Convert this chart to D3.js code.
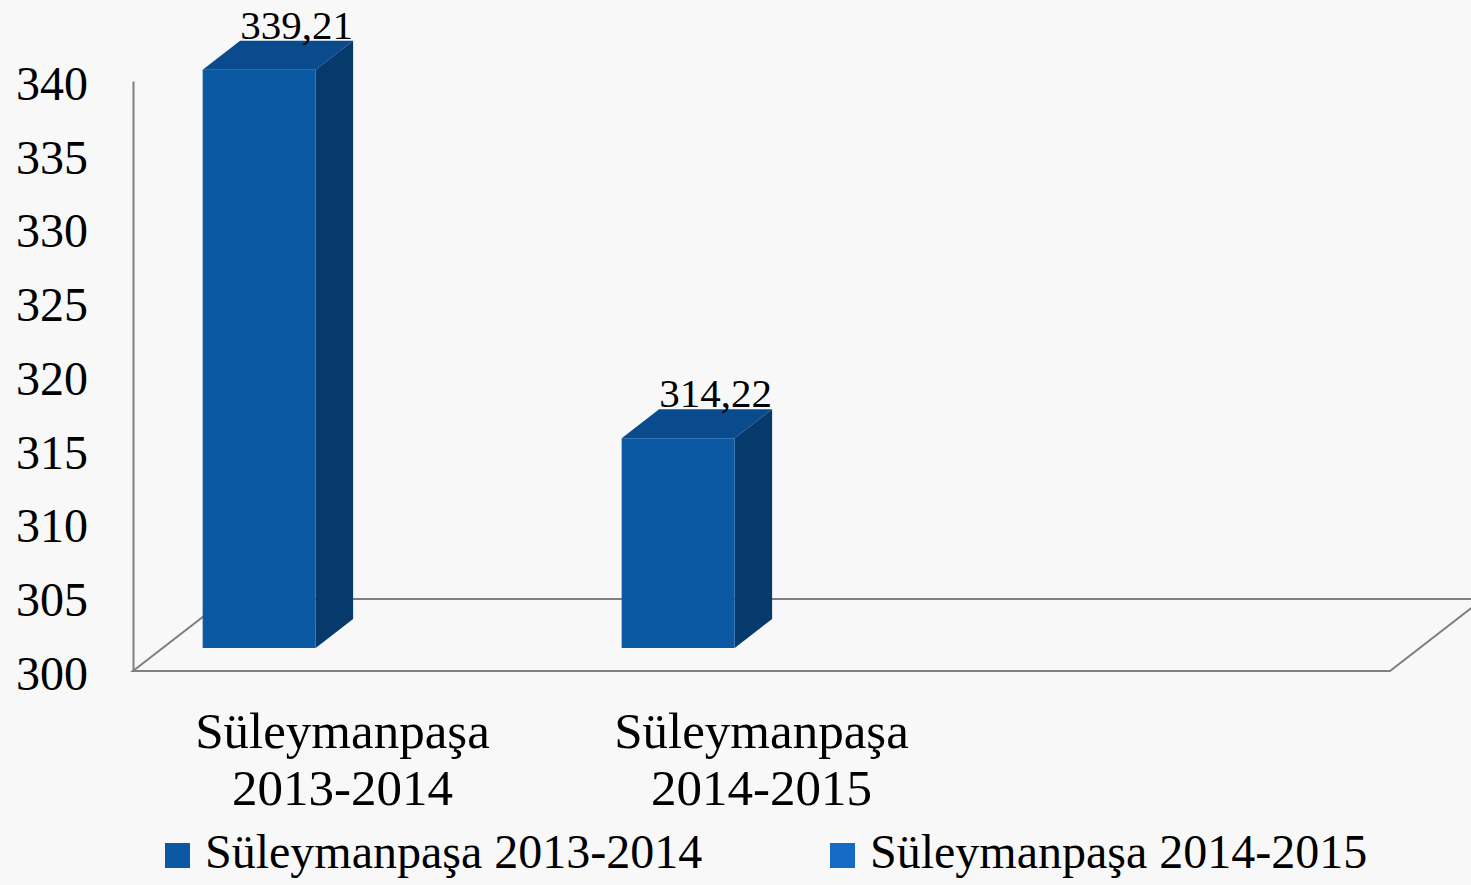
<!DOCTYPE html>
<html>
<head>
<meta charset="utf-8">
<script src="https://cdn.jsdelivr.net/npm/d3@7"></script>
<style>
  body { margin: 0; background: #f8f8f8; }
  text { font-family: "Liberation Serif", serif; font-variant-numeric: oldstyle-nums; }
</style>
</head>
<body>
<div id="vis"></div>
<script>
var categories = ["Süleymanpaşa 2013-2014", "Süleymanpaşa 2014-2015", ""];
var catLines = [["Süleymanpaşa", "2013-2014"], ["Süleymanpaşa", "2014-2015"], []];
var seriesNames = ["Süleymanpaşa 2013-2014", "Süleymanpaşa 2014-2015"];
var series1 = [339.21, 314.22, null];
var series2 = [null, null, null];
var valueLabels = ["339,21", "314,22", ""];
var yTicks = [300, 305, 310, 315, 320, 325, 330, 335, 340];

var width = 1471, height = 885;
var colours = ["#0b58a3", "#156bc6"];
var sideCol = "#073a6c", topCol = "#094b8d";

var svg = d3.select('#vis').append('svg')
    .attr('width', width)
    .attr('height', height);

var x0 = d3.scaleBand().domain(categories).range([133, 1390]);
var x1 = d3.scaleBand().domain(seriesNames).range([0, x0.bandwidth()])
    .paddingInner(0).paddingOuter(0.854).align(0.207);
var y = d3.scaleLinear().domain([300, 340]).range([671, 81]);

// depth: full floor depth and where the bars sit in it
var depth = { dx: 93, dy: -72 };
var barOff = { dx: depth.dx * 23 / 72, dy: depth.dy * 23 / 72 };
var barDepth = { dx: depth.dx * 29 / 72, dy: depth.dy * 29 / 72 };

var x0min = x0.range()[0], x0max = x0.range()[1], yb = y(300);

// floor
svg.append('path')
    .attr('d', 'M' + x0min + ',' + yb + 'L' + x0max + ',' + yb +
        'L' + (x0max + depth.dx) + ',' + (yb + depth.dy) +
        'L' + (x0min + depth.dx) + ',' + (yb + depth.dy) + 'Z')
    .attr('fill', 'none')
    .attr('stroke', '#7f7f7f')
    .attr('stroke-width', 2);

// y axis
var yAxis = d3.axisLeft(y).tickValues(yTicks).tickSize(0).tickPadding(45);
var ag = svg.append('g').attr('transform', 'translate(' + x0min + ',0)').call(yAxis);
ag.select('.domain').attr('stroke', '#7f7f7f').attr('stroke-width', 2);
ag.selectAll('text')
    .attr('font-size', 48)
    .attr('fill', '#000')
    .attr('dy', '0.38em')
    .attr('font-family', '"Liberation Serif", serif');

// bars
var bars = [];
[series1, series2].forEach(function(vals, si) {
    vals.forEach(function(v, ci) {
        if (v != null) bars.push({ s: si, c: ci, v: v });
    });
});

var bg = svg.append('g');
bars.forEach(function(d) {
    var xl = x0(categories[d.c]) + x1(seriesNames[d.s]) + barOff.dx;
    var xr = xl + x1.bandwidth();
    var yt = y(d.v) + barOff.dy;
    var ybot = yb + barOff.dy;
    var ddx = barDepth.dx, ddy = barDepth.dy;
    // top
    bg.append('path')
        .attr('d', 'M' + xl + ',' + yt + 'L' + (xl + ddx) + ',' + (yt + ddy) +
            'L' + (xr + ddx) + ',' + (yt + ddy) + 'L' + xr + ',' + yt + 'Z')
        .attr('fill', topCol);
    // side
    bg.append('path')
        .attr('d', 'M' + xr + ',' + yt + 'L' + (xr + ddx) + ',' + (yt + ddy) +
            'L' + (xr + ddx) + ',' + (ybot + ddy) + 'L' + xr + ',' + ybot + 'Z')
        .attr('fill', sideCol);
    // front
    bg.append('rect')
        .attr('x', xl).attr('y', yt)
        .attr('width', xr - xl).attr('height', ybot - yt)
        .attr('fill', colours[d.s]);
    // value label
    bg.append('text')
        .attr('x', (xl + xr) / 2 + ddx)
        .attr('y', yt + ddy - 2)
        .attr('text-anchor', 'middle')
        .attr('font-size', 41)
        .text(valueLabels[d.c]);
});

// category labels
categories.forEach(function(c, i) {
    var cx = x0(c) + x0.bandwidth() / 2;
    catLines[i].forEach(function(line, li) {
        svg.append('text')
            .attr('x', cx)
            .attr('y', 748 + li * 57)
            .attr('text-anchor', 'middle')
            .attr('font-size', 51)
            .text(line);
    });
});

// legend
var legX = [165, 830];
seriesNames.forEach(function(s, i) {
    svg.append('rect')
        .attr('x', legX[i]).attr('y', 843)
        .attr('width', 25).attr('height', 25)
        .attr('fill', colours[i]);
    svg.append('text')
        .attr('x', legX[i] + 40)
        .attr('y', 868)
        .attr('font-size', 48)
        .text(s);
});
</script>
</body>
</html>
